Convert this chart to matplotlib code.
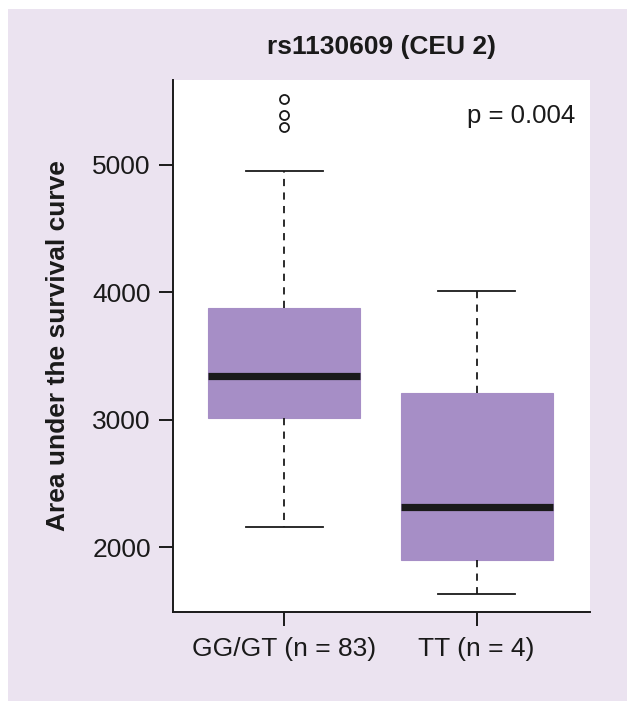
import matplotlib
matplotlib.use("Agg")

import matplotlib.pyplot as plt
from matplotlib.patches import Rectangle

plt.rcParams["font.family"] = ["Liberation Sans", "DejaVu Sans"]

# box statistics
groups = ["GG/GT (n = 83)", "TT (n = 4)"]
medians = [3340, 2314]
q1 = [3010, 1898]
q3 = [3880, 3208]
whislo = [2160, 1631]
whishi = [4950, 4008]
fliers = [[5298, 5392, 5518], []]
yticks = [2000, 3000, 4000, 5000]
p_text = "p = 0.004"

BG = "#ebe3f0"
BOX = "#a68ec6"

fig = plt.figure(figsize=(6.35, 7.1), dpi=100, facecolor="white")
fig.patches.append(Rectangle((8 / 635, 9 / 710), 619 / 635, 692 / 710,
                             transform=fig.transFigure, facecolor=BG,
                             edgecolor="none", zorder=-10))

ax = fig.add_axes([173 / 635, 1 - 612 / 710, 417 / 635, 532 / 710])
ax.set_facecolor("white")

stats = []
for i, g in enumerate(groups):
    stats.append(dict(label=g, med=medians[i], q1=q1[i], q3=q3[i],
                      whislo=whislo[i], whishi=whishi[i], fliers=fliers[i]))

ax.bxp(stats, positions=[1, 2], widths=0.79, patch_artist=True,
       boxprops=dict(facecolor=BOX, edgecolor=BOX, linewidth=0.8),
       medianprops=dict(color="#1a1a1a", linewidth=5.2, solid_capstyle="butt"),
       whiskerprops=dict(color="#1a1a1a", linewidth=1.3, linestyle=(0, (4, 3.5))),
       capprops=dict(color="#1a1a1a", linewidth=1.3),
       capwidths=0.4,
       flierprops=dict(marker="o", markersize=6.5, markerfacecolor="none",
                       markeredgecolor="#1a1a1a", markeredgewidth=1.3))

ax.set_xlim(0.422, 2.589)
ax.set_ylim(1490, 5667)
ax.set_yticks(yticks)
ax.set_yticklabels([str(t) for t in yticks])

for side in ["top", "right"]:
    ax.spines[side].set_visible(False)
for side in ["left", "bottom"]:
    ax.spines[side].set_linewidth(1.4)
    ax.spines[side].set_color("#1a1a1a")

ax.tick_params(axis="both", length=10, width=1.4, color="#1a1a1a",
               labelsize=19, labelcolor="#1a1a1a", pad=6)
ax.tick_params(axis="x", pad=8)

ax.set_ylabel("Area under the survival curve", fontsize=19,
              fontweight="bold", color="#1a1a1a", labelpad=16)
ax.set_title("rs1130609 (CEU 2)", fontsize=19, fontweight="bold",
             color="#1a1a1a", pad=19)

ax.text(0.965, 0.955, p_text, transform=ax.transAxes, ha="right", va="top",
        fontsize=18.5, color="#1a1a1a")

fig.savefig("out.png", dpi=100, facecolor=fig.get_facecolor())
